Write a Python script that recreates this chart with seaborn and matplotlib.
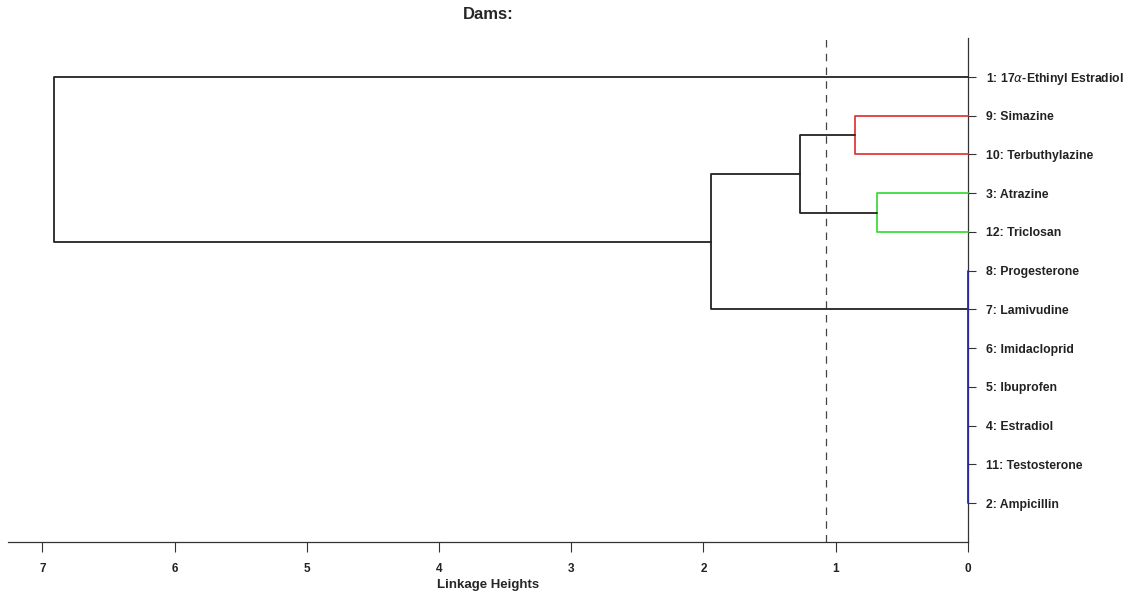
import numpy as np
import pandas as pd
import seaborn as sns
import matplotlib.pyplot as plt

# ── data ─────────────────────────────────────────────────────────────────────
leaf_labels = [
    "1: 17$\\alpha$-Ethinyl Estradiol", "9: Simazine", "10: Terbuthylazine",
    "3: Atrazine", "12: Triclosan", "8: Progesterone", "7: Lamivudine",
    "6: Imidacloprid", "5: Ibuprofen", "4: Estradiol", "11: Testosterone",
    "2: Ampicillin",
]
# merge heights (linkage distances)
h_red = 0.855      # 9 + 10
h_green = 0.69     # 3 + 12
h_mid = 1.27       # red + green
h_upper = 1.94     # (red+green) + blue group
h_root = 6.91      # everything + leaf 1
h_blue = 0.0       # 8,7,6,5,4,11,2 all at zero
cutoff = 1.07

pos = {lab.split(":")[0]: i + 1 for i, lab in enumerate(leaf_labels)}

# ── build segments ───────────────────────────────────────────────────────────
segs = []


def link(name, y_a, h_a, y_b, h_b, h, group):
    # U-shaped link: child a -> h -> child b
    segs.append(dict(seg=name, group=group, x=[h_a, h, h, h_b], y=[y_a, y_a, y_b, y_b]))


y_red = (pos["9"] + pos["10"]) / 2
y_green = (pos["3"] + pos["12"]) / 2
y_mid = (y_red + y_green) / 2
y_blue = pos["7"]
y_upper = (y_mid + y_blue) / 2

link("red", pos["9"], 0, pos["10"], 0, h_red, "red")
link("green", pos["3"], 0, pos["12"], 0, h_green, "green")
link("mid", y_red, h_red, y_green, h_green, h_mid, "black")
link("upper", y_mid, h_mid, y_blue, h_blue, h_upper, "black")
link("root", pos["1"], 0, y_upper, h_upper, h_root, "black")
segs.append(dict(seg="blue", group="blue", x=[h_blue, h_blue],
                 y=[pos["8"], pos["2"]]))

rows = []
for s in segs:
    for k, (xv, yv) in enumerate(zip(s["x"], s["y"])):
        rows.append(dict(seg=s["seg"], group=s["group"], order=k, height=xv, pos=yv))
df = pd.DataFrame(rows)

palette = {"black": "#222222", "red": "#e03a3a", "green": "#3fdc3f", "blue": "#2a2aa8"}

# ── plot ─────────────────────────────────────────────────────────────────────
sns.set_style("white")
plt.rcParams["font.family"] = ["Liberation Sans", "DejaVu Sans"]
plt.rcParams["mathtext.fontset"] = "dejavusans"

fig = plt.figure(figsize=(11.34, 5.92), dpi=100)
ax = fig.add_axes([0.007, 0.0845, 0.8465, 0.851])

sns.lineplot(data=df, x="height", y="pos", units="seg", estimator=None,
             hue="group", palette=palette, sort=False, legend=False,
             linewidth=1.3, ax=ax)
for ln in ax.lines:
    ln.set_clip_on(False)
    ln.set_zorder(3)

ax.axvline(cutoff, color="#444444", linestyle=(0, (6, 5)), linewidth=0.9)

ax.set_xlim(7.26, 0)
ax.set_ylim(13, 0)
ax.set_xticks(range(8))
ax.set_xticklabels([str(t) for t in range(8)], fontweight="bold", fontsize=8.5)
ax.set_yticks(range(1, len(leaf_labels) + 1))
ax.set_yticklabels(leaf_labels, fontweight="bold", fontsize=8.8)
ax.yaxis.tick_right()
ax.tick_params(axis="y", direction="out", length=6, width=0.8, pad=7,
               colors="#333333", labelcolor="#222222", right=True, left=False)
ax.tick_params(axis="x", direction="out", length=7, width=0.8, pad=8,
               colors="#333333", labelcolor="#222222", bottom=True)

for side in ["top", "left"]:
    ax.spines[side].set_visible(False)
for side in ["right", "bottom"]:
    ax.spines[side].set_color("#333333")
    ax.spines[side].set_linewidth(0.9)

ax.set_xlabel("Linkage Heights", fontweight="bold", fontsize=9.5, labelpad=3)
ax.set_ylabel("")
ax.set_title("Dams:", fontweight="bold", fontsize=12, pad=14)

fig.savefig("out.png", dpi=100)
